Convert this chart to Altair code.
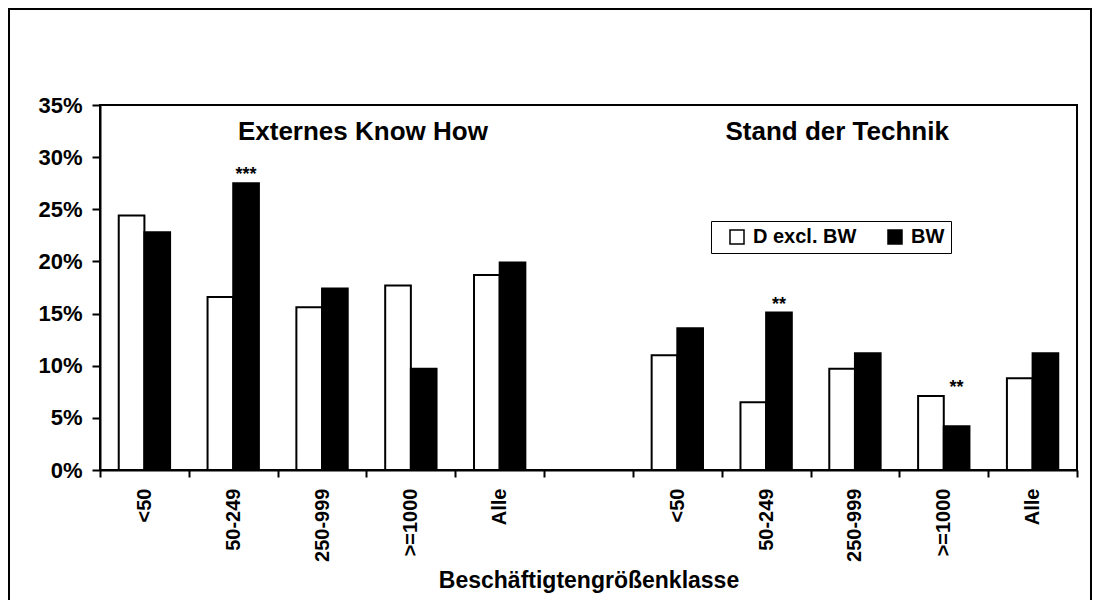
import altair as alt
import pandas as pd

# ---- data ----
categories = ["<50", "50-249", "250-999", ">=1000", "Alle"]
series_names = ["D excl. BW", "BW"]

know_how_d = [24.4, 16.6, 15.6, 17.7, 18.7]
know_how_bw = [22.8, 27.5, 17.4, 9.7, 19.9]
technik_d = [11.0, 6.5, 9.7, 7.1, 8.8]
technik_bw = [13.6, 15.1, 11.2, 4.2, 11.2]

know_how_sig = ["", "***", "", "", ""]
technik_sig = ["", "**", "", "**", ""]

panel_titles = ["Externes Know How", "Stand der Technik"]
y_ticks = [0, 0.05, 0.10, 0.15, 0.20, 0.25, 0.30, 0.35]
x_title = "Beschäftigtengrößenklasse"

FONT = "Liberation Sans"

# ---- build tables ----
groups = [("K:", know_how_d, know_how_bw, know_how_sig),
          ("T:", technik_d, technik_bw, technik_sig)]
rows, sig_rows = [], []
for prefix, dv, bv, sg in groups:
    for c, d, b, s in zip(categories, dv, bv, sg):
        rows.append({"key": prefix + c, "series": series_names[0], "value": d / 100})
        rows.append({"key": prefix + c, "series": series_names[1], "value": b / 100})
        if s:
            sig_rows.append({"key": prefix + c, "series": series_names[1],
                             "value": max(d, b) / 100, "label": s})
df = pd.DataFrame(rows)
sig_df = pd.DataFrame(sig_rows)

domain = ["K:" + c for c in categories] + [" "] + ["T:" + c for c in categories]

x_enc = alt.X(
    "key:N",
    scale=alt.Scale(domain=domain, paddingInner=0, paddingOuter=0),
    sort=domain,
    title=x_title,
    axis=alt.Axis(
        labelExpr="isString(datum.value) ? substring(datum.value, 2) : ''",
        labelAngle=-90,
        labelFontSize=20,
        labelFont=FONT,
        labelFontWeight="bold",
        labelColor="black",
        labelPadding=11,
        tickSize=7,
        tickBand="extent",
        labelOverlap=False,
        grid=False,
        titleFontSize=23,
        titleFont=FONT,
        titleFontWeight="bold",
        titleColor="black",
        titlePadding=8,
    ),
)
xoff_enc = alt.XOffset(
    "series:N",
    scale=alt.Scale(domain=series_names, paddingInner=0, paddingOuter=0.73),
    sort=series_names,
)
y_enc = alt.Y(
    "value:Q",
    scale=alt.Scale(domain=[0, 0.35], nice=False, zero=True),
    title=None,
    axis=alt.Axis(values=y_ticks, format=".0%", labelFontSize=22,
                  labelFont=FONT, labelFontWeight="bold", labelColor="black",
                  labelPadding=10, tickSize=8, grid=False),
)

bars = alt.Chart(df).mark_bar(stroke="black", strokeWidth=2).encode(
    x=x_enc,
    xOffset=xoff_enc,
    y=y_enc,
    color=alt.Color(
        "series:N",
        scale=alt.Scale(domain=series_names, range=["white", "black"]),
        sort=series_names,
        legend=alt.Legend(
            title=None,
            orient="none",
            legendX=611,
            legendY=116,
            direction="horizontal",
            symbolType="square",
            symbolSize=196,
            symbolStrokeColor="black",
            symbolStrokeWidth=1.5,
            labelFontSize=20,
            labelFont=FONT,
            labelFontWeight="bold",
            labelColor="black",
            labelOffset=6,
            columnPadding=18,
            symbolOffset=10,
            strokeColor="black",
            fillColor="white",
            padding=6,
        ),
    ),
)

sig = alt.Chart(sig_df).mark_text(
    font=FONT, fontSize=18, fontWeight="bold", color="black",
    baseline="alphabetic", dy=-3,
).encode(x="key:N", xOffset="series:N", y="value:Q", text="label:N")

t1 = alt.Chart(pd.DataFrame({"key": ["K:250-999"], "t": [panel_titles[0]]})).mark_text(
    font=FONT, fontSize=26, fontWeight="bold", color="black", baseline="alphabetic"
).encode(x=alt.X("key:N", bandPosition=0.96), y=alt.value(35), text="t:N")

t2 = alt.Chart(pd.DataFrame({"key": ["T:250-999"], "t": [panel_titles[1]]})).mark_text(
    font=FONT, fontSize=26, fontWeight="bold", color="black", baseline="alphabetic"
).encode(x=alt.X("key:N", bandPosition=0.3), y=alt.value(35), text="t:N")

frame = alt.Chart(pd.DataFrame({"a": [0]})).mark_rect(
    fill="white", fillOpacity=0, stroke="black", strokeWidth=2
).encode(x=alt.value(-91), x2=alt.value(991), y=alt.value(-96), y2=alt.value(620))

chart = alt.layer(frame, bars, sig, t1, t2).properties(
    width=977,
    height=365,
    background="white",
    autosize=alt.AutoSizeParams(type="none"),
    padding={"left": 92, "top": 97, "right": 16, "bottom": 130},
).configure_view(
    stroke="black", strokeWidth=2
).configure_axis(
    grid=False,
    domainColor="black",
    domainWidth=2,
    tickColor="black",
    tickWidth=2,
    labelFont=FONT,
    labelFontWeight="bold",
    labelColor="black",
    titleFont=FONT,
    titleFontWeight="bold",
    titleColor="black",
)

chart.save("out.html", embed_options={"renderer": "svg", "actions": False})
